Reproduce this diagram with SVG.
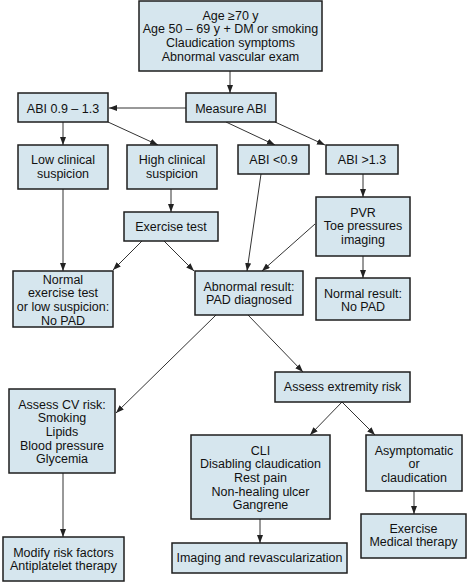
<svg xmlns="http://www.w3.org/2000/svg" width="467" height="582" viewBox="0 0 467 582">
<defs>
<marker id="ah" markerUnits="userSpaceOnUse" markerWidth="9" markerHeight="7" refX="8" refY="3" orient="auto">
<path d="M0,0 L8,3 L0,6 z" fill="#222"/>
</marker>
<style>
rect{fill:#d6e6ee;stroke:#1e1e1e;stroke-width:1.5}
text{font-family:"Liberation Sans",Arial,sans-serif;font-size:12.5px;fill:#111;text-anchor:middle}
#connectors line{stroke:#333;stroke-width:1;marker-end:url(#ah)}
</style>
</defs>
<rect x="0" y="0" width="467" height="582" style="fill:#fff;stroke:none"/>
<g id="connectors">
<line x1="230" y1="71" x2="230" y2="93"/>
<line x1="186" y1="108" x2="109" y2="108"/>
<line x1="63" y1="122" x2="63" y2="145"/>
<line x1="108" y1="122" x2="158" y2="145"/>
<line x1="226" y1="122" x2="275" y2="145"/>
<line x1="275" y1="122" x2="325" y2="145"/>
<line x1="363" y1="174" x2="363" y2="197"/>
<line x1="171" y1="189" x2="171" y2="212"/>
<line x1="63" y1="189" x2="63" y2="271"/>
<line x1="142" y1="241" x2="113" y2="270"/>
<line x1="164" y1="241" x2="194" y2="271"/>
<line x1="261" y1="174" x2="247" y2="271"/>
<line x1="315" y1="224" x2="262" y2="271"/>
<line x1="363" y1="256" x2="363" y2="278"/>
<line x1="216" y1="315" x2="116" y2="413"/>
<line x1="248" y1="315" x2="303" y2="372"/>
<line x1="342" y1="402" x2="310" y2="435"/>
<line x1="342" y1="402" x2="375" y2="435"/>
<line x1="63" y1="473" x2="63" y2="537"/>
<line x1="260" y1="519" x2="260" y2="543"/>
<line x1="414" y1="491" x2="414" y2="514"/>
</g>
<g id="start"><rect x="139" y="1" width="183" height="70"/>
<text x="230.5" y="19.5">Age ≥70 y</text>
<text x="230.5" y="33.2">Age 50 – 69 y + DM or smoking</text>
<text x="230.5" y="46.9">Claudication symptoms</text>
<text x="230.5" y="60.6">Abnormal vascular exam</text></g>
<g id="measure"><rect x="186" y="93" width="90" height="29"/>
<text x="231" y="112.5">Measure ABI</text></g>
<g id="abi-normal"><rect x="18" y="93" width="90" height="29"/>
<text x="63" y="112.5">ABI 0.9 – 1.3</text></g>
<g id="low"><rect x="18" y="145" width="90" height="44"/>
<text x="63" y="163.5">Low clinical</text>
<text x="63" y="177.5">suspicion</text></g>
<g id="high"><rect x="127" y="145" width="90" height="44"/>
<text x="172" y="163.5">High clinical</text>
<text x="172" y="177.5">suspicion</text></g>
<g id="abi-low"><rect x="238" y="145" width="71" height="29"/>
<text x="273.5" y="163.5">ABI &lt;0.9</text></g>
<g id="abi-high"><rect x="326" y="145" width="72" height="29"/>
<text x="362" y="163.5">ABI &gt;1.3</text></g>
<g id="pvr"><rect x="316" y="197" width="94" height="59"/>
<text x="363" y="216.5">PVR</text>
<text x="363" y="230.3">Toe pressures</text>
<text x="363" y="244">imaging</text></g>
<g id="exercise"><rect x="124" y="212" width="94" height="29"/>
<text x="171" y="230.5">Exercise test</text></g>
<g id="normal-exercise"><rect x="13" y="271" width="100" height="56"/>
<text x="63" y="283.5">Normal</text>
<text x="63" y="297.3">exercise test</text>
<text x="63" y="311">or low suspicion:</text>
<text x="63" y="324.7">No PAD</text></g>
<g id="abnormal"><rect x="195" y="271" width="108" height="44"/>
<text x="249" y="290.5">Abnormal result:</text>
<text x="249" y="304.2">PAD diagnosed</text></g>
<g id="normal-result"><rect x="316" y="278" width="94" height="42"/>
<text x="363" y="297.5">Normal result:</text>
<text x="363" y="311">No PAD</text></g>
<g id="extremity"><rect x="275" y="372" width="135" height="30"/>
<text x="342.5" y="391">Assess extremity risk</text></g>
<g id="cv"><rect x="9" y="389" width="106" height="84"/>
<text x="62" y="408.5">Assess CV risk:</text>
<text x="62" y="422.2">Smoking</text>
<text x="62" y="435.9">Lipids</text>
<text x="62" y="449.6">Blood pressure</text>
<text x="62" y="463.3">Glycemia</text></g>
<g id="modify"><rect x="3" y="537" width="121" height="44"/>
<text x="63.5" y="556.5">Modify risk factors</text>
<text x="63.5" y="570">Antiplatelet therapy</text></g>
<g id="cli"><rect x="191" y="435" width="139" height="84"/>
<text x="260.5" y="454.5">CLI</text>
<text x="260.5" y="468.2">Disabling claudication</text>
<text x="260.5" y="481.9">Rest pain</text>
<text x="260.5" y="495.6">Non-healing ulcer</text>
<text x="260.5" y="509.3">Gangrene</text></g>
<g id="asym"><rect x="366" y="435" width="96" height="56"/>
<text x="414" y="454.5">Asymptomatic</text>
<text x="414" y="468.2">or</text>
<text x="414" y="481.9">claudication</text></g>
<g id="imaging"><rect x="172" y="543" width="175" height="30"/>
<text x="259.5" y="561.5">Imaging and revascularization</text></g>
<g id="exmed"><rect x="361" y="514" width="105" height="44"/>
<text x="413.5" y="532.5">Exercise</text>
<text x="413.5" y="546.2">Medical therapy</text></g>
</svg>
